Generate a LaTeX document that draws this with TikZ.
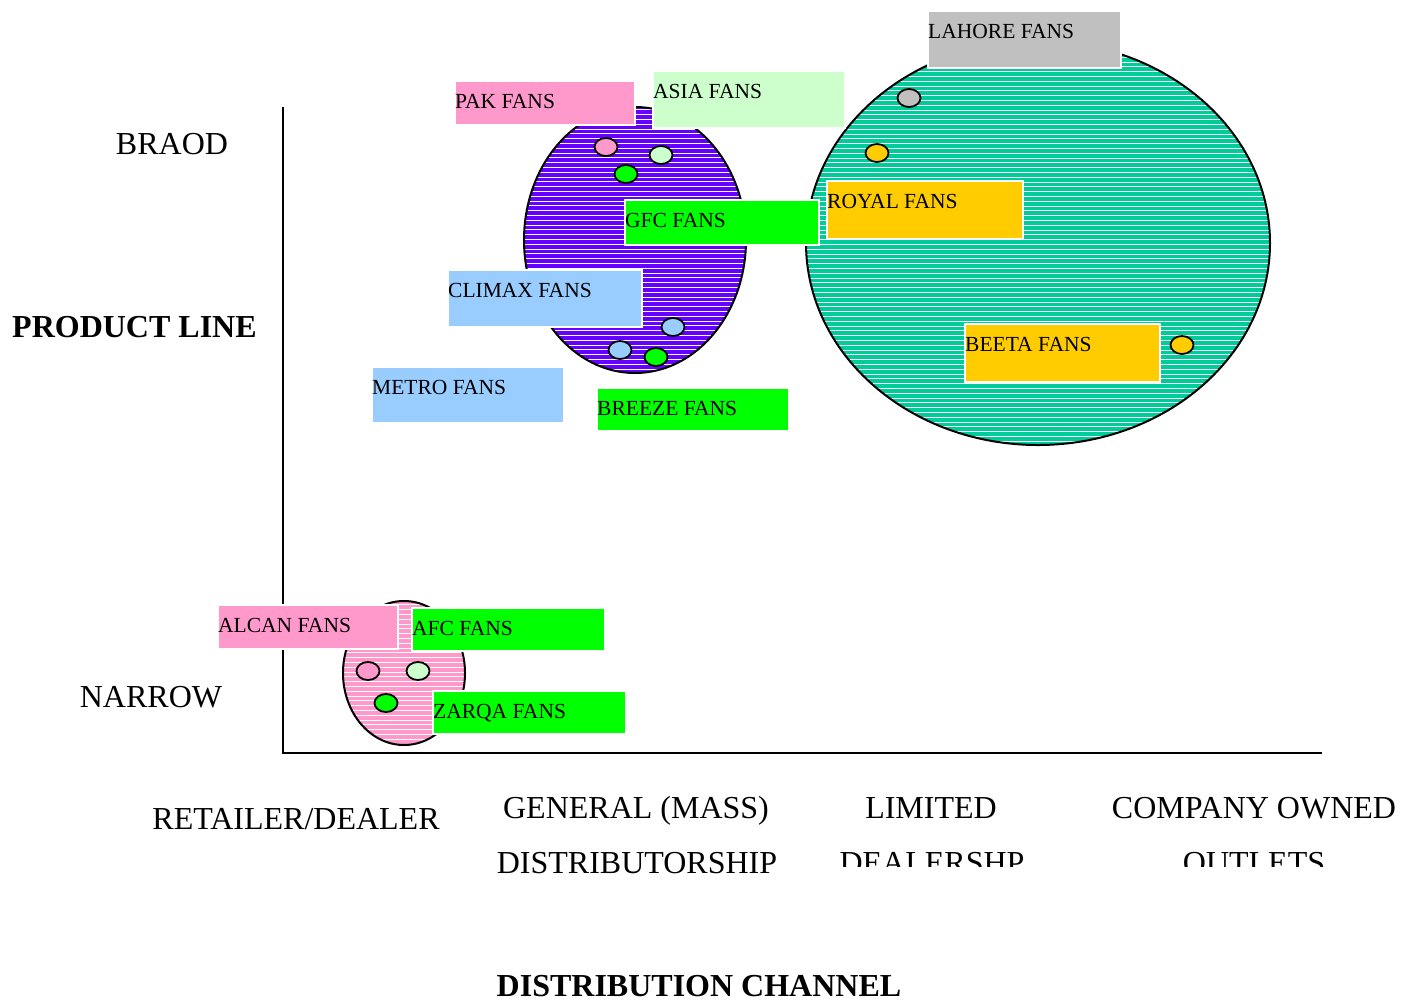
\documentclass[tikz,border=0pt]{standalone}
\usepackage{fontspec}
\setmainfont{Liberation Serif}
\usepackage{tikz}
\usetikzlibrary{shapes.geometric}

\definecolor{pakpink}{HTML}{FF99CC}
\definecolor{asiamint}{HTML}{CCFFCC}
\definecolor{fangreen}{HTML}{00FF00}
\definecolor{fangold}{HTML}{FFCC00}
\definecolor{fanblue}{HTML}{99CCFF}
\definecolor{fangray}{HTML}{C0C0C0}
\definecolor{fanviolet}{HTML}{6600FF}
\definecolor{fanteal}{HTML}{00CC99}

% caixa de marca: nome, x, y, largura, altura, cor, texto
\newcommand{\fanbox}[7]{%
    \node[brandbox, fill=#6, minimum width=#4pt, minimum height=#5pt] (#1) at (#2,#3) {};
    \node[brandtext] (#1txt) at ([xshift=1pt,yshift=-28pt]#1.north west) {#7};
}

\begin{document}
\begin{tikzpicture}[x=1pt, y=-1pt]
            \tikzstyle{brandbox}=[rectangle, draw=white, line width=1.5pt, anchor=north west, inner sep=0pt]
            \tikzstyle{brandtext}=[anchor=base west, inner sep=0pt, font=\fontsize{21.5}{25}\selectfont]
            \tikzstyle{dot}=[ellipse, draw, line width=1.8pt, inner sep=0pt, minimum width=23pt, minimum height=18pt]
            \tikzstyle{axistext}=[anchor=base, inner sep=0pt, font=\fontsize{32}{36}\selectfont]
            \tikzstyle{stripe}=[white, line width=1pt]
            \tikzstyle{ring}=[draw=black, line width=2pt]

                \useasboundingbox (0,0) rectangle (1416,1002);

                % Eixos
                \draw[line width=2.5pt] (283,107) -- (283,753) -- (1322,753);

                % Elipses
                \begin{scope}
                    \clip (635,240) ellipse [x radius=111, y radius=133];
                    \fill[fanviolet] (520,100) rectangle (750,380);
                    \foreach \yy in {105,109.8,...,380} \draw[stripe] (520,\yy) -- (750,\yy);
                \end{scope}
                \draw[ring] (635,240) ellipse [x radius=111, y radius=133];

                \begin{scope}
                    \clip (1038,243) ellipse [x radius=232, y radius=202];
                    \fill[fanteal] (800,35) rectangle (1275,450);
                    \foreach \yy in {38,42.8,...,450} \draw[stripe] (800,\yy) -- (1275,\yy);
                \end{scope}
                \draw[ring] (1038,243) ellipse [x radius=232, y radius=202];

                \begin{scope}
                    \clip (404,673) ellipse [x radius=61, y radius=72];
                    \fill[pakpink] (340,598) rectangle (470,750);
                    \foreach \yy in {600,604.8,...,750} \draw[stripe] (340,\yy) -- (470,\yy);
                \end{scope}
                \draw[ring] (404,673) ellipse [x radius=61, y radius=72];

                % Pontos
                \node[dot, fill=pakpink] (pakdot) at (606,147) {};
                \node[dot, fill=asiamint] (asiadot) at (661,155) {};
                \node[dot, fill=fangreen] (gfcdot) at (626,174) {};
                \node[dot, fill=fanblue] (climaxdot) at (673,327) {};
                \node[dot, fill=fanblue] (metrodot) at (620,350) {};
                \node[dot, fill=fangreen] (breezedot) at (656,357) {};
                \node[dot, fill=fangray] (lahoredot) at (909,98) {};
                \node[dot, fill=fangold] (royaldot) at (877,153) {};
                \node[dot, fill=fangold] (beetadot) at (1182,345) {};
                \node[dot, fill=pakpink] (alcandot) at (368,671) {};
                \node[dot, fill=asiamint] (afcdot) at (418,671) {};
                \node[dot, fill=fangreen] (zarqadot) at (386,703) {};

                % Marcas
                \fanbox{lahore}{927}{10}{193}{57}{fangray}{LAHORE FANS}
                \fanbox{pak}{454}{80}{180}{44}{pakpink}{PAK FANS}
                \fanbox{asia}{652}{70}{192}{57}{asiamint}{ASIA FANS}
                \fanbox{gfc}{624}{199}{194}{45}{fangreen}{GFC FANS}
                \fanbox{royal}{826}{180}{196}{58}{fangold}{ROYAL FANS}
                \fanbox{climax}{447}{269}{194}{57}{fanblue}{CLIMAX FANS}
                \fanbox{beeta}{964}{323}{195}{58}{fangold}{BEETA FANS}
                \fanbox{metro}{371}{366}{192}{56}{fanblue}{METRO FANS}
                \fanbox{breeze}{596}{387}{192}{43}{fangreen}{BREEZE FANS}
                \fanbox{alcan}{217}{604}{180}{44}{pakpink}{ALCAN FANS}
                \fanbox{afc}{411}{607}{193}{43}{fangreen}{AFC FANS}
                \fanbox{zarqa}{432}{690}{193}{43}{fangreen}{ZARQA FANS}

                % Rotulos do eixo vertical
                \node[axistext] (broad) at (172,154) {BRAOD};
                \node[axistext, anchor=base west, font=\fontsize{32}{36}\selectfont\bfseries] (prodline) at (12,337) {PRODUCT LINE};
                \node[axistext] (narrow) at (151,707) {NARROW};

                % Rotulos do eixo horizontal
                \node[axistext] (retail) at (296,829) {RETAILER/DEALER};
                \node[axistext] (general) at (636,818) {GENERAL (MASS)};
                \node[axistext] (distrib) at (637,873) {DISTRIBUTORSHIP};
                \node[axistext] (limited) at (931,818) {LIMITED};
                \node[axistext] (company) at (1254,818) {COMPANY OWNED};
                \begin{scope}
                    \clip (800,780) rectangle (1416,866);
                    \node[axistext] (dealer) at (932,873) {DEALERSHP};
                    \node[axistext] (outlets) at (1254,873) {OUTLETS};
                \end{scope}
                \node[axistext, font=\fontsize{32}{36}\selectfont\bfseries] (channel) at (699,996) {DISTRIBUTION CHANNEL};
        \end{tikzpicture}
\end{document}
